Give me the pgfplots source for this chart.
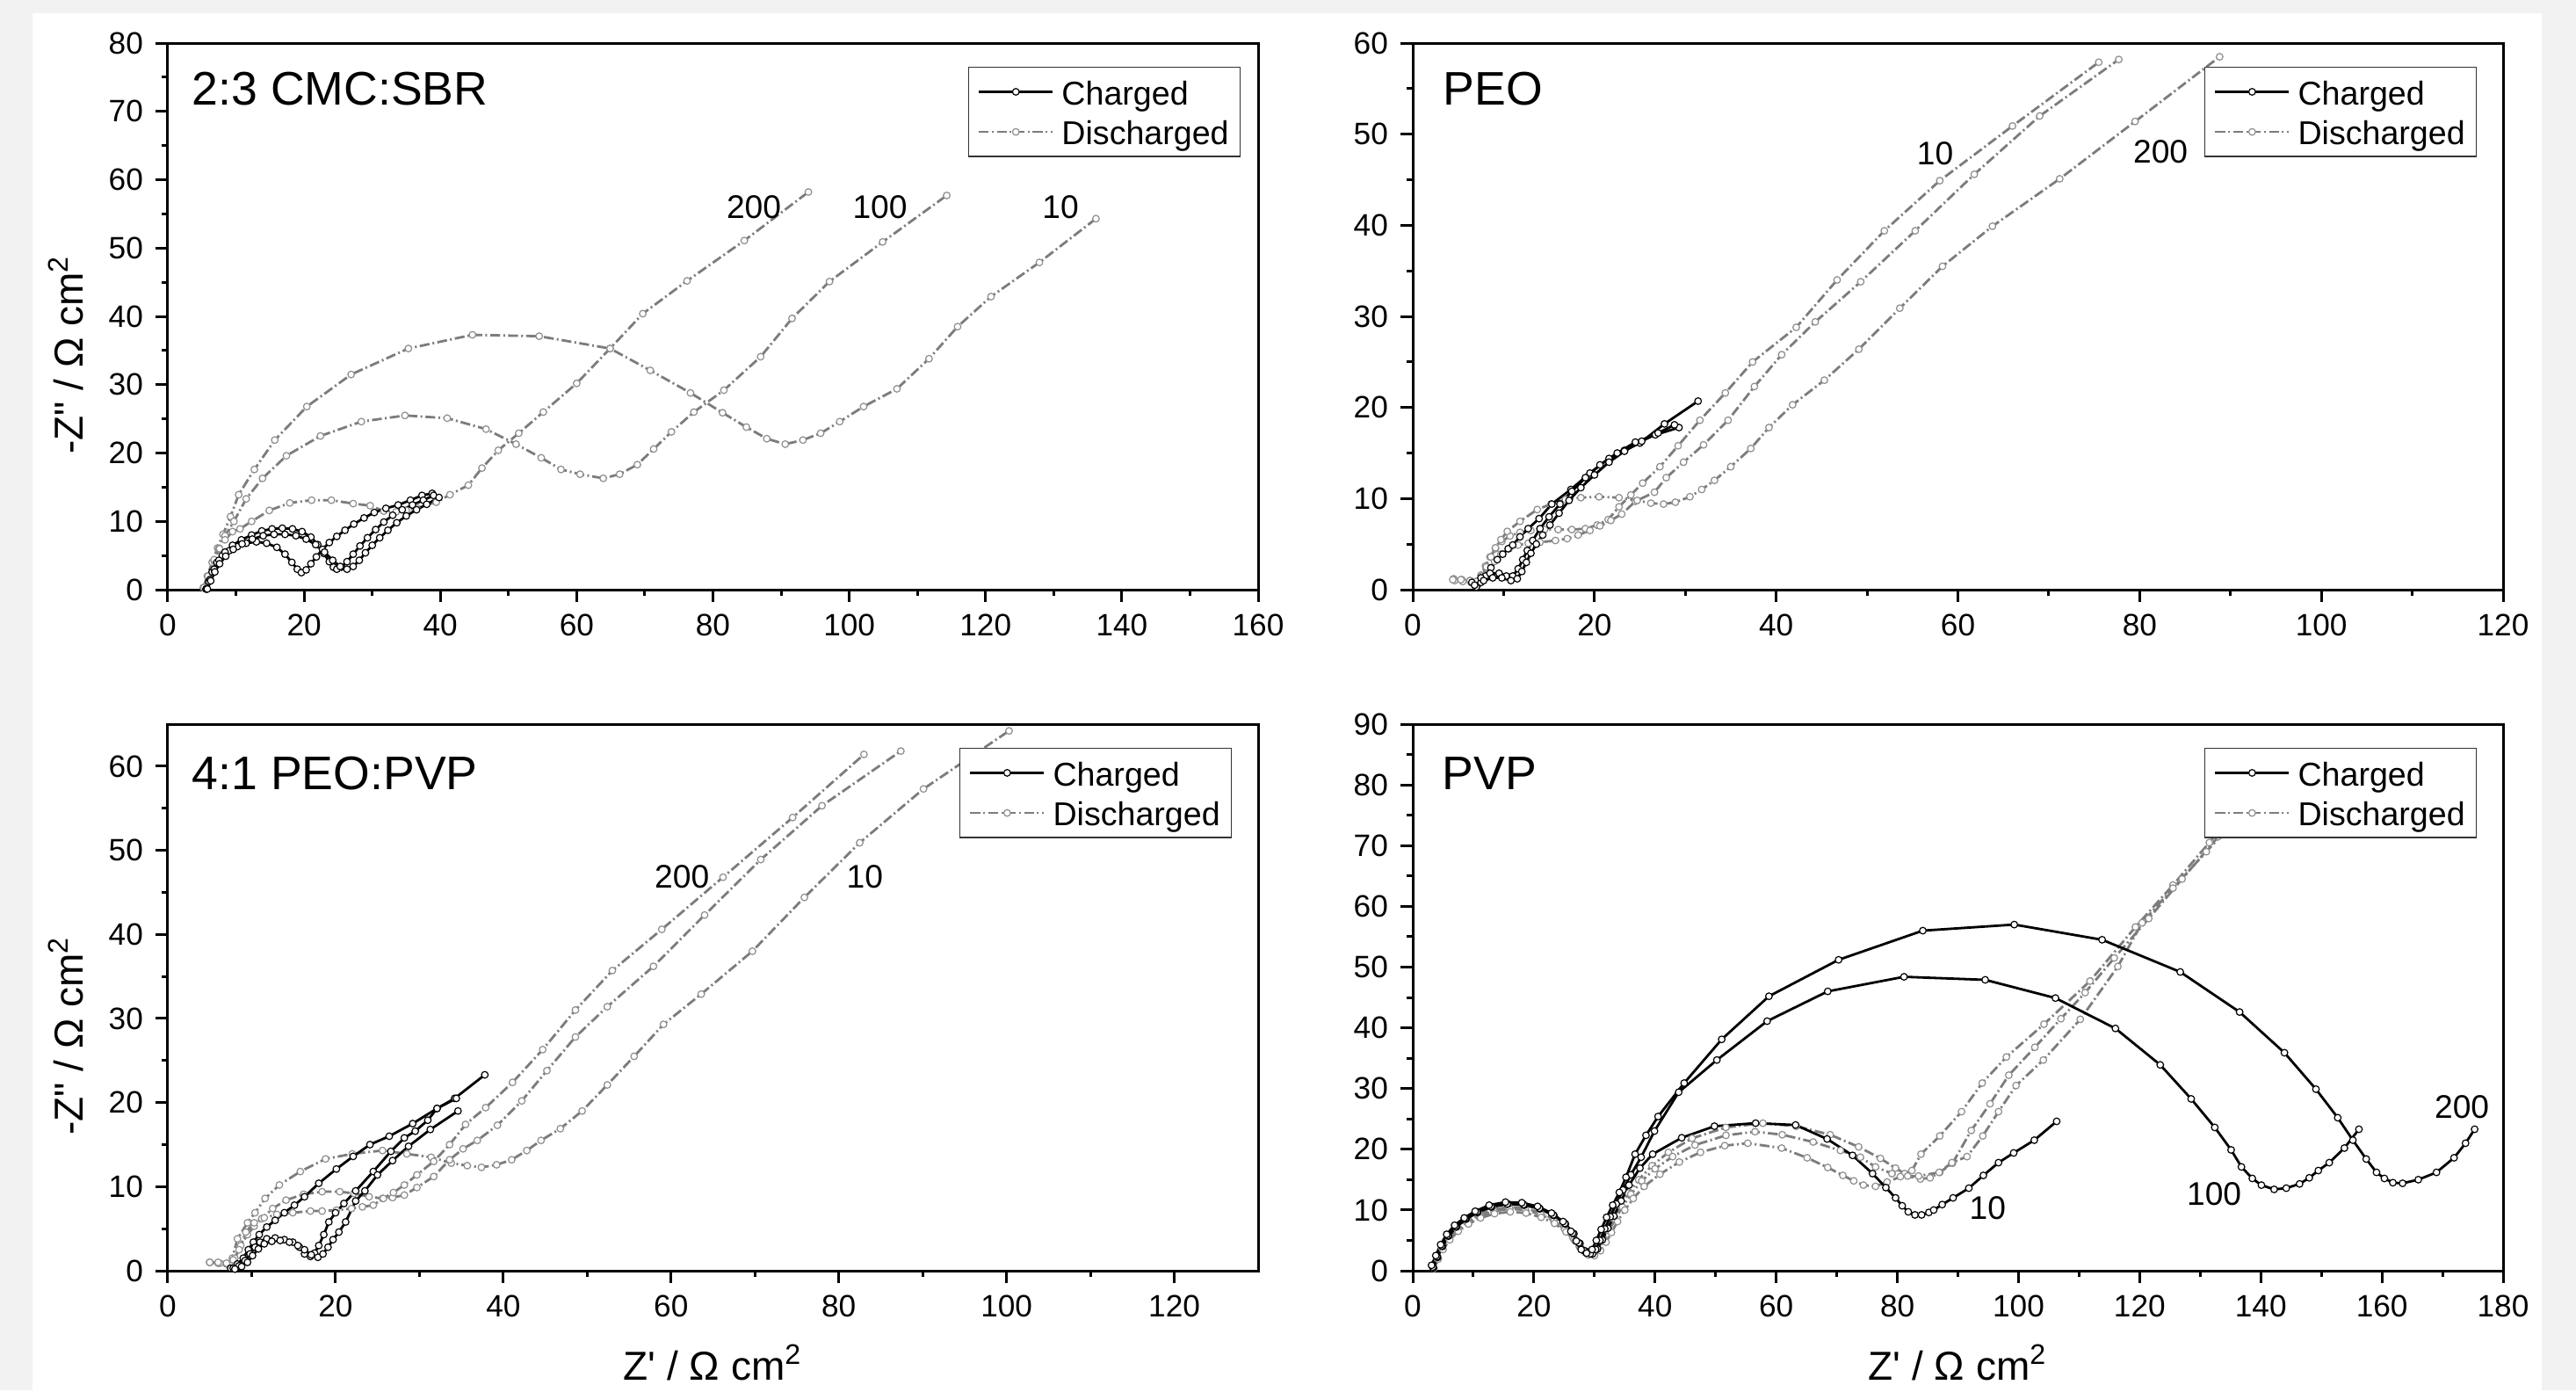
\documentclass[border=0pt]{standalone}
\usepackage{fontspec}
\setmainfont{Liberation Sans}
\usepackage{pgfplots}
\pgfplotsset{compat=1.18}
\definecolor{bgray}{HTML}{F2F2F2}
\definecolor{dgray}{HTML}{7C7C7C}
\definecolor{mgray}{HTML}{8E8E8E}
\pgfplotsset{
  legend image code/.code={\draw[mark repeat=2,mark phase=2,#1] plot coordinates {(0pt,0pt) (10.5pt,0pt) (21pt,0pt)};},
}
\pgfplotsset{
  panel/.style={
    scale only axis, width=310.25pt, height=155.5pt,
    axis line style={line width=0.75pt, black},
    tick align=outside, tick pos=left,
    major tick length=3.5pt, minor tick length=1.75pt,
    tick style={line width=0.75pt, black},
    minor x tick num=1, minor y tick num=1,
    ticklabel style={font=\fontsize{8.8}{10}\selectfont},
    /pgf/number format/assume math mode=true,
    xmin=0, ymin=0,
    legend cell align=left,
    legend style={font=\fontsize{9.4}{11}\selectfont, draw=black!80, line width=0.35pt,
      inner xsep=2.6pt, inner ysep=1.4pt, row sep=0.2pt, column sep=1.6pt,
      nodes={inner xsep=0.6pt, inner ysep=0.75pt, text height=0.85em, text depth=0.12em}, anchor=north east},
    label style={font=\fontsize{11.5}{13}\selectfont},
  },
  charged/.style={black, line width=0.7pt, mark=*, mark size=0.95pt,
    mark options={solid, fill=white, draw=black, line width=0.3pt}},
  discharged/.style={dgray, line width=0.7pt, dash pattern=on 2.8pt off 0.9pt on 0.5pt off 0.9pt,
    mark=*, mark size=0.95pt, mark options={solid, fill=white, draw=mgray, line width=0.3pt}},
  ylab/.style={ylabel={-Z\textquotedbl{} / Ω cm\textsuperscript{2}},
    ylabel style={at={(rel axis cs:-0.0935,0.43)}, anchor=center}},
  xlab/.style={xlabel={Z\textquotesingle{} / Ω cm\textsuperscript{2}},
    xlabel style={at={(rel axis cs:0.5,0)}, anchor=base, yshift=-31pt}},
}
\newcommand{\ptitle}[3]{\node[anchor=base west, font=\fontsize{13.4}{15}\selectfont, inner sep=0pt] at ([xshift=#1, yshift=#2]rel axis cs:0,1) {#3};}
\newcommand{\cyc}[2]{\node[font=\fontsize{9.3}{11}\selectfont, inner sep=0pt] at (axis cs:#1) {#2};}
\begin{document}
\begin{tikzpicture}
\fill[bgray] (0pt,0pt) rectangle (733pt,-395.5pt);
\fill[white] (9.25pt,-3.75pt) rectangle (723.25pt,-395.5pt);

% ---------------- Panel 1: 2:3 CMC:SBR
\begin{axis}[panel, ylab, at={(47.75pt,-167.75pt)}, anchor=south west,
  xmax=160, ymax=80, xtick={0,20,...,160}, ytick={0,10,...,80},
  legend style={at={(rel axis cs:0.984,0.957)}}]
\addlegendimage{charged}\addlegendentry{Charged}
\addlegendimage{discharged}\addlegendentry{Discharged}
% discharged 10
\addplot[discharged, forget plot] coordinates {(5.2,0.3)(5.8,2.0)(6.5,4.0)(7.3,6.1)(8.1,8.1)(9.2,10.7)(10.4,13.9)(12.7,17.6)(15.7,21.9)(20.4,26.8)(26.9,31.5)(35.3,35.3)(44.7,37.3)(54.5,37.1)(64.9,35.3)(70.8,32.1)(76.7,28.8)(81.4,25.9)(84.9,23.8)(87.9,22.1)(90.6,21.3)(93.2,21.9)(95.8,22.9)(98.6,24.6)(102.1,26.8)(107,29.4)(111.7,33.8)(115.9,38.5)(120.8,42.9)(127.9,47.9)(136.2,54.3)};
% discharged 100
\addplot[discharged, forget plot] coordinates {(5.4,0.3)(6.0,2.0)(6.8,4.2)(7.5,6.0)(8.4,7.9)(9.7,10.0)(11.5,13.3)(13.9,16.3)(17.4,19.6)(22.4,22.5)(28.4,24.6)(34.8,25.5)(41,25.1)(46.7,23.5)(51.1,21.3)(54.8,19.3)(57.7,17.6)(60.5,16.9)(63.9,16.3)(66.3,16.9)(68.9,18.3)(71.3,20.6)(73.9,23.1)(77.2,26)(81.6,29.2)(87,34.1)(91.6,39.7)(97.1,45.1)(104.9,50.9)(114.3,57.7)};
% discharged 200
\addplot[discharged, forget plot] coordinates {(5.3,0.3)(5.9,2.0)(6.8,4.4)(7.6,6.0)(8.4,7.3)(9.5,8.5)(10.6,8.9)(12.3,10.0)(14.9,11.6)(17.9,12.7)(21.1,13.1)(24,13.1)(27.2,12.6)(29.7,12.3)(31.7,11.5)(33.5,11.4)(35.0,11.6)(36.5,12)(39.4,12.8)(41.4,13.9)(44.1,15.3)(46.1,17.8)(48.5,20.4)(51.5,22.9)(55.1,26)(60,30.2)(64.9,35.3)(69.7,40.4)(76.2,45.2)(84.6,51.1)(94,58.2)};
% charged
\addplot[charged, forget plot] coordinates {(5.6,0.1)(6.0,1.2)(6.5,2.6)(7.2,4.0)(8.0,5.0)(9.0,5.7)(10.2,6.3)(11.5,6.8)(13.0,7.0)(14.5,6.8)(16.0,6.2)(17.2,5.2)(18.2,4.0)(19.0,3.0)(19.6,2.5)(20.3,2.9)(21.0,3.8)(21.8,4.8)(22.7,5.9)(23.7,6.9)(24.8,7.8)(26.0,8.7)(27.3,9.6)(28.8,10.5)(30.3,11.3)(32.0,11.9)(33.8,12.4)(35.6,13.1)(37.3,13.8)(38.8,14.1)};
\addplot[charged, forget plot] coordinates {(5.7,0.1)(6.2,1.5)(6.8,3.0)(7.5,4.3)(8.4,5.5)(9.5,6.5)(10.8,7.3)(12.3,8.0)(13.8,8.6)(15.3,8.9)(16.8,9.0)(18.3,8.9)(19.7,8.5)(21.0,7.7)(22.0,6.6)(22.9,5.3)(23.7,4.1)(24.3,3.3)(24.8,3.0)(25.5,3.3)(26.3,4.1)(27.2,5.2)(28.2,6.4)(29.3,7.6)(30.5,8.8)(31.7,9.9)(33.0,10.9)(34.4,11.7)(35.9,12.4)(37.5,13.1)(39.0,13.8)};
\addplot[charged, forget plot] coordinates {(5.8,0.1)(6.3,1.3)(6.9,2.6)(7.6,3.8)(8.5,4.9)(9.6,5.9)(10.9,6.7)(12.4,7.4)(14.0,7.9)(15.6,8.1)(17.2,8.1)(18.8,7.9)(20.3,7.4)(21.7,6.6)(23.0,5.5)(24.2,4.3)(25.3,3.4)(26.3,3.0)(27.2,3.4)(28.1,4.3)(29.0,5.4)(30.0,6.5)(31.1,7.6)(32.3,8.7)(33.6,9.8)(35.0,10.8)(36.5,11.7)(38.0,12.5)(39.8,13.5)};
\cyc{86,56}{200}
\cyc{104.5,56}{100}
\cyc{131,56}{10}
\ptitle{6.75pt}{-17.5pt}{2:3 CMC:SBR}
\end{axis}

% ---------------- Panel 2: PEO
\begin{axis}[panel, at={(402pt,-167.75pt)}, anchor=south west,
  xmax=120, ymax=60, xtick={0,20,...,120}, ytick={0,10,...,60},
  legend style={at={(rel axis cs:0.976,0.957)}}]
\addlegendimage{charged}\addlegendentry{Charged}
\addlegendimage{discharged}\addlegendentry{Discharged}
\addplot[discharged, forget plot] coordinates {(4.5,1.2)(5.4,1.1)(6.3,1.0)(7.0,0.9)(7.5,1.6)(8.0,2.6)(8.5,3.6)(9.1,4.5)(9.8,5.3)(10.7,5.9)(11.8,6.3)(13.0,6.5)(14.5,6.6)(16.0,6.6)(17.5,6.6)(19.0,6.7)(20.3,7.1)(21.5,7.7)(22.7,9.1)(24.0,10.4)(25.3,11.7)(27.2,13.5)(29.2,15.8)(31.6,18.6)(34.4,21.6)(37.4,25.0)(42.2,28.8)(46.7,34.0)(51.9,39.4)(58.0,44.9)(66.0,50.9)(75.5,57.9)};
\addplot[discharged, forget plot] coordinates {(4.6,1.0)(5.5,0.9)(6.4,0.8)(7.2,0.6)(7.8,1.2)(8.4,2.2)(9.0,3.1)(9.7,3.9)(10.6,4.5)(11.6,4.9)(12.7,5.1)(14.0,5.2)(15.7,5.4)(17.0,5.6)(18.2,6.0)(19.5,6.5)(20.6,7.0)(21.8,7.6)(23.0,8.3)(24.5,9.7)(26.6,10.7)(27.9,12.3)(29.8,14.0)(32.0,15.9)(34.7,18.6)(37.6,22.3)(40.6,25.8)(44.3,29.4)(49.3,33.8)(55.3,39.4)(61.8,45.6)(69.0,52.0)(77.7,58.2)};
\addplot[discharged, forget plot] coordinates {(4.4,1.1)(5.3,1.1)(6.3,1.0)(7.0,0.9)(7.6,1.5)(8.1,2.5)(8.6,3.6)(9.1,4.6)(9.7,5.5)(10.4,6.4)(11.8,7.5)(13.7,8.8)(15.2,9.4)(16.8,9.9)(18.5,10.1)(20.5,10.2)(22.7,10.1)(24.7,9.8)(26.2,9.5)(27.6,9.4)(28.9,9.6)(30.5,10.2)(31.8,11.0)(33.2,12.0)(35.0,13.5)(37.2,15.5)(39.2,17.8)(41.8,20.3)(45.3,23.0)(49.1,26.4)(53.6,30.9)(58.3,35.5)(63.8,39.9)(71.2,45.1)(79.5,51.4)(88.8,58.5)};
\addplot[charged, forget plot] coordinates {(7.0,0.3)(7.5,0.8)(8.0,1.5)(8.6,2.4)(9.3,3.3)(9.9,3.9)(10.5,4.5)(11.0,4.9)(11.8,5.8)(12.7,6.7)(13.9,7.8)(15.3,9.4)(17.4,11.0)(19.5,12.8)(21.6,14.4)(23.3,15.3)(25.0,16.1)(27.7,18.2)(31.4,20.7)};
\addplot[charged, forget plot] coordinates {(6.5,0.8)(7.5,1.3)(8.5,1.8)(9.5,1.8)(10.3,1.5)(11.0,1.5)(11.6,2.3)(12.1,3.3)(12.6,4.3)(13.2,5.4)(14.0,6.7)(15.0,8.0)(16.2,9.4)(17.5,10.8)(19.0,12.3)(20.6,13.7)(22.5,15.0)(24.5,16.2)(26.7,17.0)(29.3,17.8)};
\addplot[charged, forget plot] coordinates {(6.8,0.5)(7.8,1.0)(8.8,1.3)(9.8,1.3)(10.8,1.0)(11.5,1.2)(12.0,2.0)(12.5,3.0)(13.0,4.0)(13.6,5.0)(14.3,6.0)(15.1,7.1)(16.1,8.4)(17.2,9.8)(18.5,11.2)(20.0,12.6)(21.6,14.0)(23.3,15.2)(25.2,16.3)(27.0,17.2)(28.8,18.1)};
\cyc{57.5,47.9}{10}
\cyc{82.3,48.1}{200}
\ptitle{8.5pt}{-17.5pt}{PEO}
\end{axis}

% ---------------- Panel 3: 4:1 PEO:PVP
\begin{axis}[panel, ylab, xlab, at={(47.75pt,-361.5pt)}, anchor=south west,
  xmax=130, ymax=65, xtick={0,20,...,120}, ytick={0,10,...,60},
  legend style={at={(rel axis cs:0.976,0.957)}}]
\addlegendimage{charged}\addlegendentry{Charged}
\addlegendimage{discharged}\addlegendentry{Discharged}
\addplot[discharged, forget plot] coordinates {(5.0,1.0)(6.0,0.9)(7.0,0.8)(7.7,1.5)(8.3,3.8)(9.5,5.7)(10.4,6.9)(11.6,8.6)(13.3,10.2)(15.8,11.8)(18.8,13.3)(22.0,13.9)(25.6,14.3)(28.5,13.9)(31.4,13.5)(33.8,12.8)(35.7,12.5)(37.4,12.3)(39.2,12.6)(41.0,13.2)(42.8,14.3)(44.5,15.5)(46.8,16.9)(49.4,19.0)(52.4,22.1)(55.6,25.5)(59.1,29.3)(63.6,32.9)(69.7,38.0)(75.9,44.4)(82.5,50.9)(90.1,57.3)(100.3,64.2)};
\addplot[discharged, forget plot] coordinates {(5.0,1.0)(6.2,0.9)(7.3,0.8)(8.0,1.5)(8.7,3.0)(9.5,4.3)(10.3,5.3)(11.2,6.2)(12.5,7.4)(14.1,8.4)(16.2,9.1)(18.4,9.4)(20.5,9.4)(22.2,9.2)(24.0,8.8)(25.6,8.6)(26.8,8.7)(28.2,9.0)(29.7,9.9)(31.7,11.2)(33.6,13.2)(35.2,14.5)(36.9,15.5)(39.3,17.3)(42.2,20.2)(45.2,23.8)(48.6,27.8)(52.4,31.4)(57.9,36.2)(64.0,42.3)(70.7,48.9)(78.0,55.3)(87.4,61.8)};
\addplot[discharged, forget plot] coordinates {(5.0,1.0)(6.0,1.0)(7.0,0.9)(7.8,1.3)(8.5,2.5)(9.3,4.6)(10.3,5.7)(11.5,6.3)(13.0,6.7)(14.9,6.9)(17.0,7.1)(18.4,7.1)(20.1,7.2)(21.9,7.4)(23.2,7.6)(24.5,7.8)(25.7,8.6)(26.9,9.3)(28.2,10.2)(29.7,11.4)(31.7,13.0)(33.6,15.0)(35.5,17.4)(37.9,19.4)(41.1,22.4)(44.7,26.3)(48.6,31.0)(53.0,35.7)(58.9,40.6)(66.2,46.8)(74.5,53.9)(83.0,61.4)};
\addplot[charged, forget plot] coordinates {(7.5,0.3)(8.3,0.8)(9.0,1.5)(9.6,2.5)(10.2,3.4)(10.9,4.3)(11.8,5.2)(12.8,6.0)(13.9,6.9)(15.1,7.8)(16.3,8.8)(18.0,10.4)(20.1,12.1)(22.1,13.6)(24.1,15.0)(26.4,16.0)(29.2,17.5)(32.1,19.3)(34.2,20.5)(37.8,23.3)};
\addplot[charged, forget plot] coordinates {(7.8,0.3)(8.5,0.6)(9.2,1.2)(9.8,2.0)(10.4,2.8)(11.0,3.4)(11.8,3.8)(12.8,3.9)(13.9,3.7)(14.9,3.4)(15.7,2.8)(16.3,2.0)(17.0,1.7)(17.5,2.1)(18.0,3.0)(18.6,4.3)(19.2,5.8)(20.0,6.9)(21.0,8.0)(22.4,9.5)(24.5,11.8)(26.6,14.2)(28.2,15.8)(29.5,16.6)(31.0,17.9)(32.1,19.3)(34.4,20.5)};
\addplot[charged, forget plot] coordinates {(8.0,0.2)(8.8,0.5)(9.5,1.0)(10.1,1.8)(10.8,2.6)(11.5,3.2)(12.4,3.5)(13.4,3.6)(14.5,3.4)(15.5,3.0)(16.3,2.5)(17.1,1.9)(17.9,1.6)(18.5,2.0)(19.1,2.8)(19.7,3.7)(20.4,4.6)(21.2,5.8)(22.4,8.3)(23.5,9.5)(25.0,11.4)(26.8,13.1)(28.7,14.8)(31.3,16.8)(34.6,19.0)};
\cyc{61.3,46.9}{200}
\cyc{83.1,46.9}{10}
\ptitle{6.75pt}{-18.5pt}{4:1 PEO:PVP}
\end{axis}

% ---------------- Panel 4: PVP
\begin{axis}[panel, xlab, at={(402pt,-361.5pt)}, anchor=south west,
  xmax=180, ymax=90, xtick={0,20,...,180}, ytick={0,10,...,90},
  legend style={at={(rel axis cs:0.976,0.957)}}]
\addlegendimage{charged}\addlegendentry{Charged}
\addlegendimage{discharged}\addlegendentry{Discharged}
\addplot[discharged, forget plot] coordinates {(3.3,0.6)(4.0,2.1)(4.8,3.8)(5.9,5.5)(7.3,6.9)(9.0,8.2)(11.0,9.3)(13.3,10.1)(15.9,10.5)(18.5,10.3)(21.0,9.6)(23.2,8.5)(25.0,7.1)(26.4,5.5)(27.5,4.0)(28.5,3.0)(29.5,2.8)(30.4,3.6)(31.2,5.0)(32.1,6.7)(33.1,8.6)(34.3,10.7)(35.6,12.8)(37.3,15.0)(39.5,17.3)(42.2,19.5)(46.1,21.8)(51.7,23.6)(57.8,24.3)(63.3,23.8)(68.9,22.4)(73.6,20.4)(77.2,18.5)(79.7,16.9)(81.2,16.0)(82.4,16.5)(83.9,19.2)(87.0,22.2)(90.6,26.2)(94.0,30.9)(98.0,35.2)(104.2,40.6)(111.8,47.7)(119.3,56.6)(125.5,63.5)(131.5,70.5)(137.5,77.5)(141.0,82.0)};
\addplot[discharged, forget plot] coordinates {(3.4,0.5)(4.1,2.0)(4.9,3.6)(6.0,5.3)(7.4,6.7)(9.1,8.0)(11.1,9.0)(13.4,9.8)(16.0,10.2)(18.6,10.0)(21.1,9.3)(23.3,8.2)(25.1,6.8)(26.6,5.2)(27.7,3.8)(28.8,2.8)(29.8,2.6)(30.7,3.5)(31.5,4.9)(32.4,6.6)(33.4,8.5)(34.6,10.5)(36.0,12.6)(37.8,14.8)(40.0,16.8)(42.9,18.8)(46.6,20.7)(51.7,22.3)(56.5,22.9)(61.0,22.4)(66.1,21.2)(70.6,19.8)(73.9,18.7)(76.4,17.1)(79.1,16.0)(81.7,15.6)(83.8,15.1)(85.4,15.3)(87.0,16.2)(89.1,17.7)(92.2,23.1)(95.3,27.5)(98.4,32.2)(102.7,36.8)(107.0,41.5)(111.0,45.8)(115.8,51.5)(121.5,58.0)(127.0,64.5)(133.0,71.5)(139.0,78.5)(142.5,82.5)};
\addplot[discharged, forget plot] coordinates {(3.5,0.4)(4.2,1.9)(5.0,3.5)(6.1,5.1)(7.5,6.5)(9.2,7.7)(11.2,8.7)(13.5,9.4)(16.1,9.7)(18.7,9.5)(21.2,8.8)(23.4,7.8)(25.3,6.4)(26.8,4.9)(27.9,3.5)(29.0,2.6)(30.0,2.5)(31.0,3.3)(31.9,4.7)(32.8,6.3)(33.8,8.1)(35.0,10.0)(36.4,11.9)(38.2,13.9)(40.8,15.9)(44.0,17.9)(47.5,19.5)(51.5,20.6)(55.3,21.0)(60.9,20.2)(65.1,18.6)(68.5,17.0)(71.0,15.7)(72.8,14.8)(74.4,14.1)(76.4,13.9)(78.3,14.6)(80.5,15.5)(83.5,15.6)(86.9,16.2)(89.0,17.8)(91.5,18.8)(94.1,22.2)(96.7,26.2)(99.6,30.5)(104.1,34.7)(110.2,41.4)(116.4,50.1)(120.4,57.3)(125.5,63.0)(131.0,69.0)(137.0,75.5)(143.0,82.0)};
\addplot[charged, forget plot] coordinates {(3.4,0.5)(4.1,2.2)(4.9,4.0)(5.9,5.7)(7.2,7.2)(8.8,8.5)(10.7,9.6)(13.0,10.5)(15.7,11.0)(18.4,10.8)(21.0,10.2)(23.3,9.1)(25.2,7.7)(26.6,6.1)(27.6,4.5)(28.6,3.2)(29.7,2.8)(30.5,3.6)(31.3,5.1)(32.2,7.0)(33.2,9.0)(34.4,11.5)(35.7,14.1)(37.5,16.9)(39.6,19.2)(44.4,21.9)(49.8,23.8)(56.6,24.3)(63.2,24.0)(68.4,21.7)(72.6,19.0)(75.9,16.0)(78.1,13.7)(79.7,12.0)(80.8,10.7)(81.8,9.7)(82.9,9.2)(84.0,9.2)(85.2,9.6)(86.0,10.0)(87.4,10.9)(89.2,12.0)(91.8,13.6)(94.2,15.7)(96.7,17.8)(99.2,19.4)(102.6,21.5)(106.3,24.6)};
\addplot[charged, forget plot] coordinates {(3.3,0.6)(4.0,2.3)(4.8,4.1)(5.8,5.8)(7.1,7.3)(8.7,8.6)(10.6,9.7)(12.9,10.6)(15.6,11.0)(18.3,10.9)(20.9,10.3)(23.2,9.2)(25.1,7.8)(26.4,6.2)(27.4,4.6)(28.3,3.3)(29.3,2.8)(30.2,3.5)(30.9,5.0)(31.7,6.9)(32.6,8.9)(33.6,11.0)(34.7,13.3)(36.0,15.8)(37.7,18.7)(39.9,23.0)(43.9,29.4)(50.2,34.7)(58.5,41.1)(68.5,46.0)(81.1,48.4)(94.5,47.9)(106.1,44.9)(116.0,39.9)(123.4,33.9)(128.5,28.3)(132.4,23.6)(135.1,19.9)(136.8,17.1)(138.6,15.2)(140.1,14.1)(142.2,13.4)(144.2,13.6)(146.4,14.3)(148.0,15.3)(149.5,16.5)(151.3,17.8)(153.8,20.2)(156.2,23.3)};
\addplot[charged, forget plot] coordinates {(3.1,0.9)(3.8,2.5)(4.6,4.3)(5.6,6.0)(6.9,7.5)(8.5,8.7)(10.3,9.8)(12.6,10.8)(15.3,11.3)(18.0,11.2)(20.6,10.6)(22.9,9.5)(24.8,8.1)(26.1,6.5)(27.0,4.9)(27.8,3.5)(28.7,2.9)(29.6,3.5)(30.3,5.0)(31.1,6.8)(32.0,8.8)(33.0,10.8)(34.1,12.9)(35.2,15.4)(36.7,19.2)(38.5,22.3)(40.5,25.4)(44.8,30.9)(51.0,38.1)(58.8,45.2)(70.3,51.2)(84.2,56.0)(99.3,57.0)(113.8,54.5)(126.7,49.2)(136.5,42.6)(143.9,35.9)(149.1,29.9)(152.7,25.2)(155.2,21.5)(157.4,18.4)(159.1,16.2)(160.4,15.2)(161.8,14.5)(163.4,14.4)(166.0,15.0)(169.0,16.2)(171.9,18.6)(173.8,21.0)(175.3,23.3)};
\cyc{94.9,10.3}{10}
\cyc{132.3,12.7}{100}
\cyc{173.2,27.0}{200}
\ptitle{8.25pt}{-18.5pt}{PVP}
\end{axis}
\end{tikzpicture}
\end{document}
